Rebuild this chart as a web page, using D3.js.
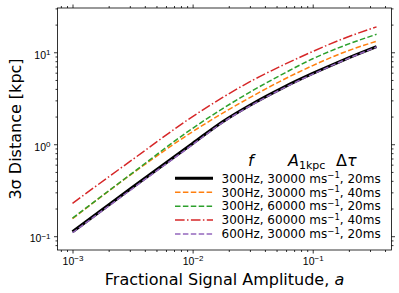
<!DOCTYPE html>
<html>
<head>
<meta charset="utf-8">
<script src="https://cdn.jsdelivr.net/npm/d3@7"></script>
<style>
  body { margin: 0; background: #fff; }
  svg { display: block; font-family: "DejaVu Sans", sans-serif; }
</style>
</head>
<body>
<div id="chart"></div>
<script>
// Plot constants
const WIDTH = 399;
const HEIGHT = 293;

// Data
const amplitude = [0.001, 0.00316, 0.01, 0.0178, 0.0316, 0.0562, 0.1, 0.178, 0.34];
const dist300_30k_20 = [0.112, 0.340, 1.02, 1.76, 2.76, 4.11, 5.88, 8.18, 11.5];
const dist300_30k_40 = [0.155, 0.482, 1.37, 2.18, 3.34, 4.99, 7.17, 9.88, 13.2];
const dist300_60k_20 = [0.157, 0.488, 1.49, 2.44, 3.83, 5.79, 8.50, 11.65, 15.7];
const dist300_60k_40 = [0.228, 0.681, 2.00, 3.23, 4.96, 7.22, 10.2, 14.0, 18.9];
const dist600_30k_20 = [0.109, 0.330, 0.99, 1.72, 2.70, 4.03, 5.78, 8.08, 11.4];

const seriesLabels = [
  ["300Hz, 30000 ms", ", 20ms"],
  ["300Hz, 30000 ms", ", 40ms"],
  ["300Hz, 60000 ms", ", 20ms"],
  ["300Hz, 60000 ms", ", 40ms"],
  ["600Hz, 30000 ms", ", 20ms"],
];
const xMajor = [1e-3, 1e-2, 1e-1];
const xMajorExp = ["−3", "−2", "−1"];
const yMajor = [1e-1, 1e0, 1e1];
const yMajorExp = ["−1", "0", "1"];

const series = [
  { values: dist300_30k_20, color: "#000000", width: 3, dash: null },
  { values: dist300_30k_40, color: "#ff7f0e", width: 1.5, dash: "5.5,2.4" },
  { values: dist300_60k_20, color: "#2ca02c", width: 1.5, dash: "5.5,2.4" },
  { values: dist300_60k_40, color: "#d62728", width: 1.5, dash: "9.6,2.4,1.5,2.4" },
  { values: dist600_30k_20, color: "#9467bd", width: 1.5, dash: "5.5,2.4" },
];

const L = 57.5, R = 391.5, T = 8, B = 250;

const svg = d3.select("#chart").append("svg")
  .attr("width", WIDTH)
  .attr("height", HEIGHT);

const x = d3.scaleLog().domain([Math.pow(10, -3.125), Math.pow(10, -0.344)]).range([L, R]);
const y = d3.scaleLog().domain([Math.pow(10, -1.15), Math.pow(10, 1.4815)]).range([B, T]);

// minor ticks 2..9 per decade inside the domain
function minors(scale) {
  const [a, b] = scale.domain();
  const out = [];
  for (let e = Math.floor(Math.log10(a)); e <= Math.ceil(Math.log10(b)); e++) {
    for (let m = 2; m <= 9; m++) {
      const v = m * Math.pow(10, e);
      if (v >= a && v <= b) out.push(v);
    }
  }
  return out;
}

// Lines
const line = d3.line()
  .x((d, i) => x(amplitude[i]))
  .y(d => y(d))
  .curve(d3.curveMonotoneX);

svg.append("clipPath").attr("id", "plot-clip")
  .append("rect").attr("x", L).attr("y", T).attr("width", R - L).attr("height", B - T);

svg.append("g").attr("clip-path", "url(#plot-clip)")
  .selectAll("path")
  .data(series)
  .join("path")
  .attr("d", d => line(d.values))
  .attr("fill", "none")
  .attr("stroke", d => d.color)
  .attr("stroke-width", d => d.width)
  .attr("stroke-dasharray", d => d.dash);

// Axes
function styleAxis(g) {
  g.select(".domain").remove();
  g.selectAll(".tick line").attr("stroke", "#000").attr("stroke-width", 0.8);
}

function superLabels(g, exps) {
  g.selectAll(".tick text").each(function (d, i) {
    const t = d3.select(this).text(null).attr("fill", "#000").attr("font-size", 10.5);
    t.append("tspan").text("10");
    t.append("tspan").attr("dy", "-0.45em").attr("font-size", 8).text(exps[i]);
  });
}

// bottom
svg.append("g").attr("transform", `translate(0,${B})`)
  .call(d3.axisBottom(x).tickValues(minors(x)).tickSize(2).tickFormat(""))
  .call(styleAxis);
svg.append("g").attr("transform", `translate(0,${B})`)
  .call(d3.axisBottom(x).tickValues(xMajor).tickSize(3.5).tickPadding(3).tickFormat(() => ""))
  .call(styleAxis)
  .call(g => superLabels(g, xMajorExp))
  .call(g => g.selectAll(".tick text").attr("dy", "0.8em"));

// top
svg.append("g").attr("transform", `translate(0,${T})`)
  .call(d3.axisTop(x).tickValues(minors(x)).tickSize(2).tickFormat(""))
  .call(styleAxis);
svg.append("g").attr("transform", `translate(0,${T})`)
  .call(d3.axisTop(x).tickValues(xMajor).tickSize(3.5).tickFormat(""))
  .call(styleAxis);

// left
svg.append("g").attr("transform", `translate(${L},0)`)
  .call(d3.axisLeft(y).tickValues(minors(y)).tickSize(2).tickFormat(""))
  .call(styleAxis);
svg.append("g").attr("transform", `translate(${L},0)`)
  .call(d3.axisLeft(y).tickValues(yMajor).tickSize(3.5).tickPadding(3.5).tickFormat(() => ""))
  .call(styleAxis)
  .call(g => superLabels(g, yMajorExp))
  .call(g => g.selectAll(".tick text").attr("dy", "0.55em"));

// right
svg.append("g").attr("transform", `translate(${R},0)`)
  .call(d3.axisRight(y).tickValues(minors(y)).tickSize(2).tickFormat(""))
  .call(styleAxis);
svg.append("g").attr("transform", `translate(${R},0)`)
  .call(d3.axisRight(y).tickValues(yMajor).tickSize(3.5).tickFormat(""))
  .call(styleAxis);

// frame
svg.append("rect")
  .attr("x", L).attr("y", T).attr("width", R - L).attr("height", B - T)
  .attr("fill", "none").attr("stroke", "#000").attr("stroke-width", 0.8);

// Axis labels
const xl = svg.append("text")
  .attr("x", (L + R) / 2).attr("y", 285)
  .attr("text-anchor", "middle").attr("font-size", 16);
xl.append("tspan").text("Fractional Signal Amplitude, ");
xl.append("tspan").attr("font-style", "italic").text("a");

svg.append("text")
  .attr("transform", `translate(21,${(T + B) / 2}) rotate(-90)`)
  .attr("text-anchor", "middle").attr("font-size", 16)
  .text("3σ Distance [kpc]");

// Legend
const legend = svg.append("g");
const header = legend.append("text").attr("y", 166).attr("font-size", 16);
header.append("tspan").attr("x", 248).attr("font-style", "italic").text("f");
header.append("tspan").attr("x", 288).attr("font-style", "italic").text("A");
header.append("tspan").attr("dy", 3).attr("font-size", 11).text("1kpc");
header.append("tspan").attr("x", 336).attr("dy", -3).text("Δ");
header.append("tspan").attr("font-style", "italic").text("τ");

const rowY = d3.scaleLinear().domain([0, 4]).range([178.3, 234]);

const rows = legend.selectAll("g.row")
  .data(series)
  .join("g")
  .attr("class", "row")
  .attr("transform", (d, i) => `translate(0,${rowY(i)})`);

rows.append("line")
  .attr("x1", 175).attr("x2", 213)
  .attr("stroke", d => d.color)
  .attr("stroke-width", d => d.width)
  .attr("stroke-dasharray", d => d.dash);

rows.append("text")
  .attr("x", 221.5).attr("y", 4.3)
  .attr("font-size", 12)
  .each(function (d, i) {
    const t = d3.select(this);
    t.append("tspan").text(seriesLabels[i][0]);
    t.append("tspan").attr("dy", -4.5).attr("font-size", 8.5).text("−1");
    t.append("tspan").attr("dy", 4.5).text(seriesLabels[i][1]);
  });
</script>
</body>
</html>
